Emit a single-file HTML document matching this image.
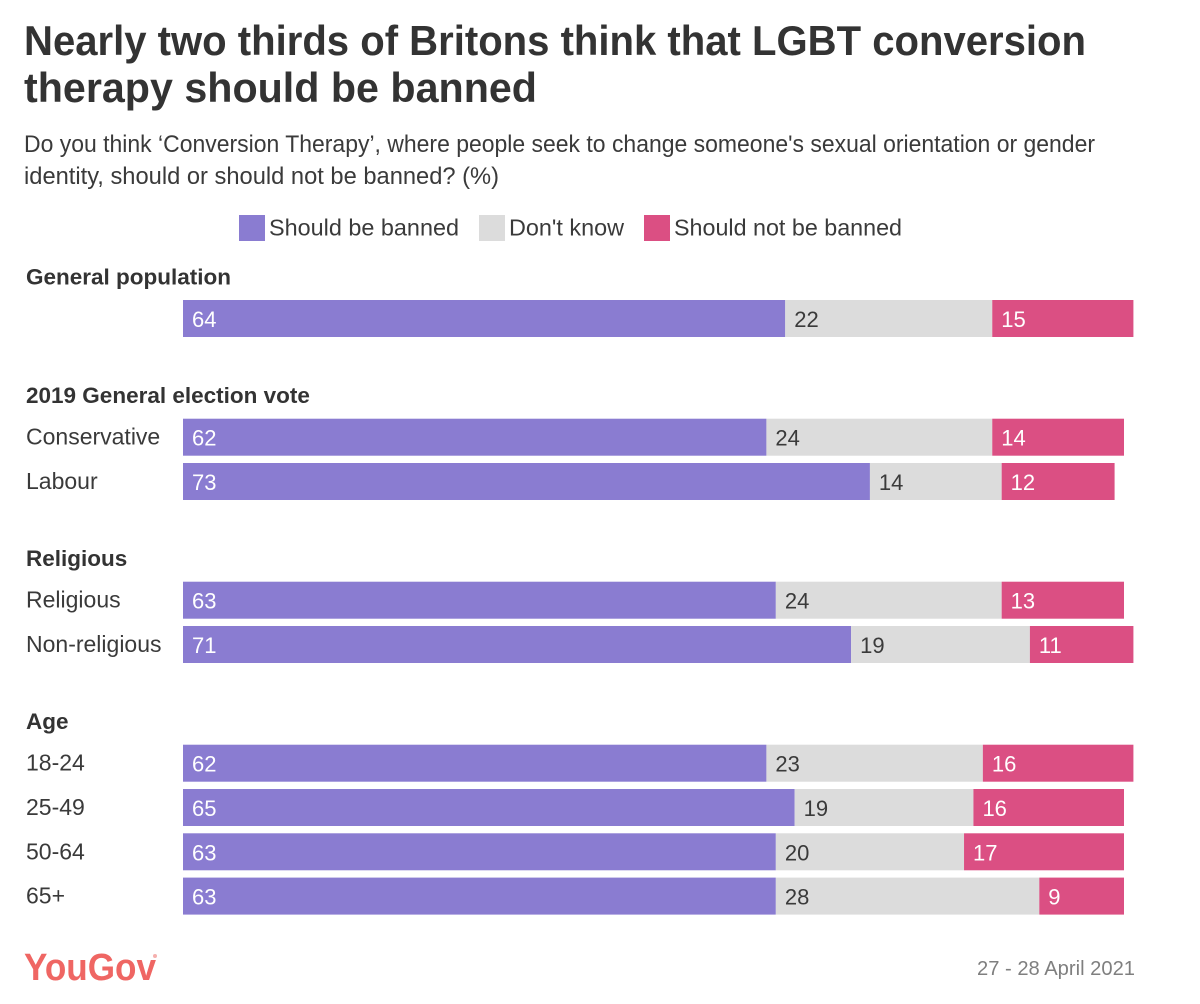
<!DOCTYPE html>
<html lang="en">
<head>
<meta charset="utf-8">
<title>Nearly two thirds of Britons think that LGBT conversion therapy should be banned</title>
<style>
html,body{margin:0;padding:0;background:#fff;}
svg{display:block;font-family:"Liberation Sans",sans-serif;}
</style>
</head>
<body>
<svg id="chart" width="1200" height="1004" viewBox="0 0 1200 1004" xmlns="http://www.w3.org/2000/svg">
  <rect width="1200" height="1004" fill="#ffffff"/>
  <text x="24" y="55" font-size="42" font-weight="700" fill="#333333" textLength="1062" lengthAdjust="spacingAndGlyphs">Nearly two thirds of Britons think that LGBT conversion</text>
  <text x="24" y="102" font-size="42" font-weight="700" fill="#333333" textLength="513" lengthAdjust="spacingAndGlyphs">therapy should be banned</text>
  <text x="24" y="152" font-size="24" fill="#3a3a3a" textLength="1071" lengthAdjust="spacingAndGlyphs">Do you think ‘Conversion Therapy’, where people seek to change someone's sexual orientation or gender</text>
  <text x="24" y="184" font-size="24" fill="#3a3a3a" textLength="475" lengthAdjust="spacingAndGlyphs">identity, should or should not be banned? (%)</text>

  <g>
    <rect x="239" y="215" width="26" height="26" fill="#8a7cd1"/>
    <text x="269" y="235.500" font-size="23" fill="#3a3a3a" textLength="190" lengthAdjust="spacingAndGlyphs">Should be banned</text>
    <rect x="479" y="215" width="26" height="26" fill="#dcdcdc"/>
    <text x="509" y="235.500" font-size="23" fill="#3a3a3a" textLength="115" lengthAdjust="spacingAndGlyphs">Don't know</text>
    <rect x="644" y="215" width="26" height="26" fill="#db4f83"/>
    <text x="674" y="235.500" font-size="23" fill="#3a3a3a" textLength="228" lengthAdjust="spacingAndGlyphs">Should not be banned</text>
  </g>

  <g id="plot"></g>

  <g>
    <text x="24" y="980" font-size="38" font-weight="700" fill="#ef6663" textLength="132" lengthAdjust="spacingAndGlyphs">YouGov</text>
    <circle cx="155" cy="956" r="2" fill="#f5b0ae"/>
  </g>
  <text x="977" y="975" font-size="20" fill="#7f7f7f" textLength="158" lengthAdjust="spacingAndGlyphs">27 - 28 April 2021</text>
</svg>
<script>
// Chart data
const groupTitles = ['General population', '2019 General election vote', 'Religious', 'Age'];
const groupRows = [
  [''],
  ['Conservative', 'Labour'],
  ['Religious', 'Non-religious'],
  ['18-24', '25-49', '50-64', '65+']
];
const shouldBeBanned = [[64], [62, 73], [63, 71], [62, 65, 63, 63]];
const dontKnow = [[22], [24, 14], [24, 19], [23, 19, 20, 28]];
const shouldNotBeBanned = [[15], [14, 12], [13, 11], [16, 16, 17, 9]];

// Axis and layout
const SVG_NS = 'http://www.w3.org/2000/svg';
const plot = document.getElementById('plot');
const xStart = 183;
const unitWidth = 9.41;
const barHeight = 37;
const rowPitch = 44.3;
const groupStep = 74.4;
const firstBarTop = 300;
const xScale = function (v) { return xStart + v * unitWidth; };

function makeText(content, x, y, size, weight, fill) {
  const t = document.createElementNS(SVG_NS, 'text');
  t.setAttribute('x', x);
  t.setAttribute('y', y);
  t.setAttribute('font-size', size);
  t.setAttribute('font-weight', weight);
  t.setAttribute('fill', fill);
  t.textContent = content;
  return t;
}

const segmentFills = ['#8a7cd1', '#dcdcdc', '#db4f83'];
const segmentInk = ['#ffffff', '#3a3a3a', '#ffffff'];
const segmentNames = ['should-be-banned', 'dont-know', 'should-not-be-banned'];

let rowTop = firstBarTop;
groupTitles.forEach(function (title, g) {
  const header = makeText(title, 26, rowTop - 15.500, 22.500, 700, '#333333');
  
  
  plot.appendChild(header);

  groupRows[g].forEach(function (label, r) {
    if (label) {
      const rowLabel = makeText(label, 26, rowTop + 26, 23, 400, '#3a3a3a');
      
      
      plot.appendChild(rowLabel);
    }
    const values = [shouldBeBanned[g][r], dontKnow[g][r], shouldNotBeBanned[g][r]];
    let cumulative = 0;
    values.forEach(function (value, s) {
      const x0 = xScale(cumulative);
      const x1 = xScale(cumulative + value);
      const bar = document.createElementNS(SVG_NS, 'rect');
      
      
      bar.setAttribute('x', x0);
      bar.setAttribute('y', rowTop);
      bar.setAttribute('width', x1 - x0);
      bar.setAttribute('height', barHeight);
      bar.setAttribute('fill', segmentFills[s]);
      plot.appendChild(bar);

      const valueLabel = makeText(String(value), x0 + 9, rowTop + 27, 22, 400, segmentInk[s]);
      
      
      plot.appendChild(valueLabel);
      cumulative += value;
    });
    rowTop += rowPitch;
  });
  rowTop += groupStep;
});
</script>
</body>
</html>
